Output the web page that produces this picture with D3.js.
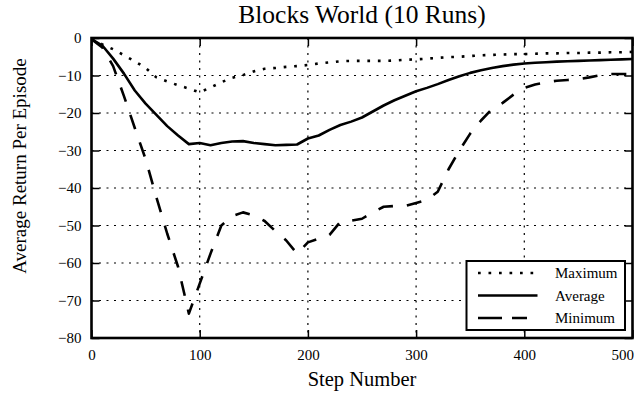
<!DOCTYPE html>
<html>
<head>
<meta charset="utf-8">
<script src="https://cdn.jsdelivr.net/npm/d3@7"></script>
<style>
  html, body { margin: 0; padding: 0; background: #fff; }
  svg { display: block; font-family: "Liberation Serif", "Times New Roman", serif; }
</style>
</head>
<body>
<svg id="chart" width="634" height="393"></svg>
<script>
// Training steps (x) and per-episode returns over 10 runs
const steps = d3.range(0, 501, 10);
const maximum = [
  -0.3, -1.7, -3.0, -4.6, -6.2, -8.0, -10.5, -11.6, -12.6, -13.5,
  -14.5, -13.2, -11.8, -10.6, -9.9, -8.9, -8.2, -8.0, -7.7, -7.5,
  -7.2, -6.8, -6.5, -6.2, -6.1, -6.1, -6.1, -6.1, -6.0, -5.8,
  -5.7, -5.5, -5.3, -5.1, -5.0, -4.8, -4.6, -4.5, -4.4, -4.3,
  -4.3, -4.2, -4.1, -4.1, -4.0, -4.0, -3.9, -3.9, -3.8, -3.8, -3.7
];
const average = [
  -0.3, -2.0, -5.5, -9.5, -14.0, -17.5, -20.5, -23.5, -26.0, -28.3,
  -28.0, -28.6, -28.0, -27.6, -27.5, -28.0, -28.3, -28.6, -28.5, -28.4,
  -26.8, -26.0, -24.5, -23.2, -22.3, -21.2, -19.6, -18.0, -16.6, -15.4,
  -14.2, -13.3, -12.3, -11.2, -10.2, -9.3, -8.6, -8.0, -7.5, -7.1,
  -6.8, -6.6, -6.45, -6.3, -6.2, -6.1, -6.0, -5.9, -5.8, -5.7, -5.6
];
const minimum = [
  -0.3, -2.5, -7.5, -15.5, -24.0, -32.3, -42.5, -52.2, -61.0, -73.5,
  -65.5, -57.5, -50.0, -47.5, -46.5, -47.3, -48.8, -51.5, -54.0, -57.5,
  -54.5, -53.5, -52.5, -49.0, -48.7, -48.2, -46.5, -45.0, -44.8, -44.8,
  -44.0, -43.2, -41.0, -35.0, -30.0, -25.5, -22.0, -19.0, -17.3, -15.1,
  -13.3, -12.4, -11.8, -11.4, -11.2, -11.0, -10.5, -9.9, -9.6, -9.6, -9.6
];
const xTicks = [0, 100, 200, 300, 400, 500];
const yTicks = [0, -10, -20, -30, -40, -50, -60, -70, -80];
const seriesNames = ["Maximum", "Average", "Minimum"];

const svg = d3.select("#chart");
const W = 634, H = 393;
const m = { left: 91.5, right: 1.5, top: 38, bottom: 55 };
const x0 = m.left, x1 = W - m.right, y0 = m.top, y1 = H - m.bottom;

const x = d3.scaleLinear().domain([0, 500]).range([x0, x1]);
const y = d3.scaleLinear().domain([-80, 0]).range([y1, y0]);

const styles = {
  Maximum: { dash: "2.7,7.8", legendDash: "2.7,7.8" },
  Average: { dash: null, legendDash: null },
  Minimum: { dash: "15,14", legendDash: "24,10,15,30" }
};

// Dotted grid
const grid = svg.append("g").attr("stroke", "#000").attr("stroke-width", 1.2)
  .attr("stroke-dasharray", "2,5.5");
grid.selectAll("line.gx").data(xTicks.slice(1, -1)).join("line")
  .attr("x1", d => x(d)).attr("x2", d => x(d)).attr("y1", y0).attr("y2", y1);
grid.selectAll("line.gy").data(yTicks.slice(1, -1)).join("line")
  .attr("y1", d => y(d)).attr("y2", d => y(d)).attr("x1", x0).attr("x2", x1);

// Axes with inward ticks on all four sides
const tickLen = 8;
const axB = svg.append("g").attr("transform", `translate(0,${y1})`)
  .call(d3.axisBottom(x).tickValues(xTicks).tickSizeInner(-tickLen).tickSizeOuter(0).tickPadding(11.5));
const axT = svg.append("g").attr("transform", `translate(0,${y0})`)
  .call(d3.axisTop(x).tickValues(xTicks).tickSizeInner(-tickLen).tickSizeOuter(0).tickFormat(""));
const axL = svg.append("g").attr("transform", `translate(${x0},0)`)
  .call(d3.axisLeft(y).tickValues(yTicks).tickSizeInner(-tickLen).tickSizeOuter(0)
    .tickPadding(10).tickFormat(d => d < 0 ? "\u2212" + Math.abs(d) : d));
const axR = svg.append("g").attr("transform", `translate(${x1},0)`)
  .call(d3.axisRight(y).tickValues(yTicks).tickSizeInner(-tickLen).tickSizeOuter(0).tickFormat(""));

[axB, axT, axL, axR].forEach(a => {
  a.select(".domain").remove();
  a.selectAll(".tick line").attr("stroke", "#000").attr("stroke-width", 1.5);
  a.selectAll(".tick text").attr("fill", "#000")
    .style("font-family", "'Liberation Serif', serif").style("font-size", "15px");
});
// Keep the last step label inside the canvas
axB.selectAll(".tick text").filter(d => d === 500).attr("text-anchor", "end").attr("x", 1);

// Series lines
const series = [
  { name: "Maximum", values: maximum },
  { name: "Average", values: average },
  { name: "Minimum", values: minimum }
];
const line = d3.line().x((d, i) => x(steps[i])).y(d => y(d));
svg.append("g").selectAll("path").data(series).join("path")
  .attr("d", d => line(d.values))
  .attr("fill", "none").attr("stroke", "#000").attr("stroke-width", 2.6)
  .attr("stroke-linejoin", "round").attr("stroke-linecap", "butt")
  .attr("stroke-dasharray", d => styles[d.name].dash);

// Frame
svg.append("rect").attr("x", x0).attr("y", y0).attr("width", x1 - x0).attr("height", y1 - y0)
  .attr("fill", "none").attr("stroke", "#000").attr("stroke-width", 2.6);

// Legend
const lg = svg.append("g");
const lgX = 466.5, lgY = 261, lgW = 158.5, lgH = 69;
lg.append("rect").attr("x", lgX).attr("y", lgY).attr("width", lgW).attr("height", lgH)
  .attr("fill", "#fff").attr("stroke", "#000").attr("stroke-width", 2);
seriesNames.forEach((name, i) => {
  const cy = lgY + 12 + i * 22.5;
  lg.append("line").attr("x1", lgX + 11.5).attr("x2", lgX + 71).attr("y1", cy).attr("y2", cy)
    .attr("stroke", "#000").attr("stroke-width", 2.6)
    .attr("stroke-dasharray", styles[name].legendDash).attr("stroke-linecap", "butt");
  lg.append("text").attr("x", lgX + 88.5).attr("y", cy + 5).text(name)
    .style("font-size", "15px").attr("fill", "#000");
});

// Title and axis labels
svg.append("text").attr("x", (x0 + x1) / 2).attr("y", 23).attr("text-anchor", "middle")
  .style("font-size", "25.5px").text("Blocks World (10 Runs)");
svg.append("text").attr("x", (x0 + x1) / 2).attr("y", 386).attr("text-anchor", "middle")
  .style("font-size", "20.5px").text("Step Number");
svg.append("text").attr("transform", "translate(26,166) rotate(-90)")
  .attr("text-anchor", "middle").style("font-size", "19px").text("Average Return Per Episode");
</script>
</body>
</html>
